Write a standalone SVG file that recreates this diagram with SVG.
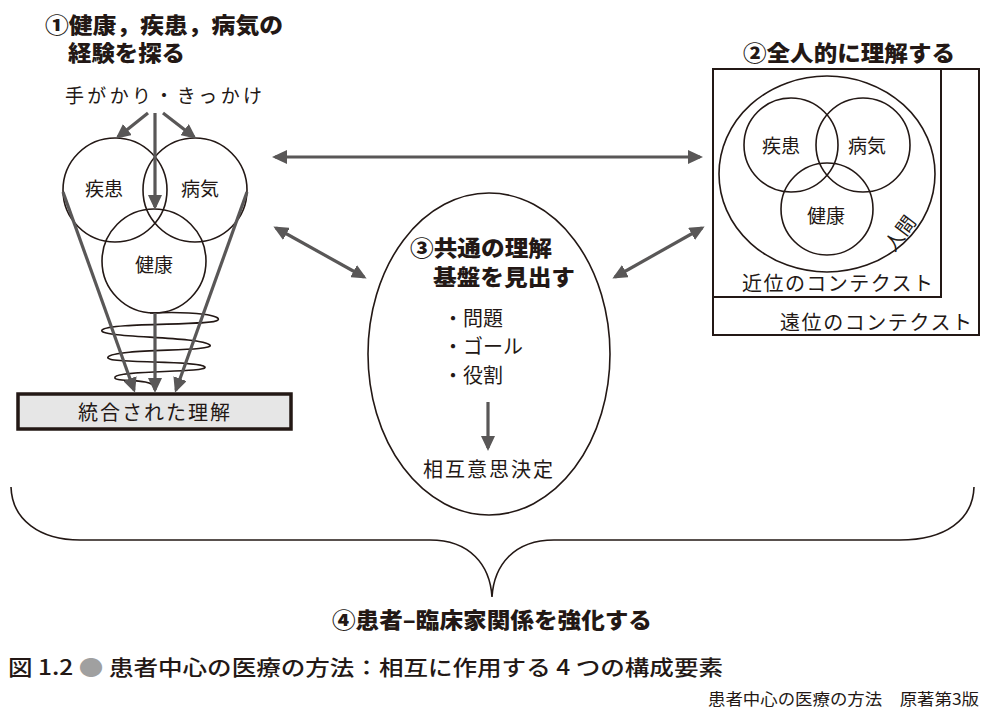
<svg xmlns="http://www.w3.org/2000/svg" width="981" height="719" viewBox="0 0 981 719">
<style>
text{font-family:"Noto Sans CJK JP","Noto Sans CJK SC",sans-serif;fill:#231815}
.h{font-weight:900;font-size:22px}
.t{font-size:19px}
.c{text-anchor:middle}
.ln{fill:none;stroke:#231815;stroke-width:1.6}
.ar{fill:none;stroke:#595757;stroke-width:3.2}
</style>
<defs>
<marker id="ah" viewBox="0 0 15 14" refX="12" refY="7" markerWidth="15" markerHeight="14" markerUnits="userSpaceOnUse" orient="auto-start-reverse">
<path d="M0,0 L15,7 L0,14 z" fill="#595757"/>
</marker>
</defs>
<rect width="981" height="719" fill="#ffffff"/>

<g id="section1">
<text class="h" x="45" y="33" textLength="238" lengthAdjust="spacingAndGlyphs">①健康，疾患，病気の</text>
<text class="h" x="68" y="61" textLength="117" lengthAdjust="spacingAndGlyphs">経験を探る</text>
<text class="t" x="65" y="103" textLength="197" lengthAdjust="spacing">手がかり・きっかけ</text>
</g>
<g id="circle-illness-left">
<circle class="ln" cx="115" cy="190" r="52"/>
<text class="t c" x="104" y="196">疾患</text>
</g>
<g id="circle-disease-left">
<circle class="ln" cx="195" cy="190" r="52"/>
<text class="t c" x="200" y="196">病気</text>
</g>
<g id="circle-health-left">
<circle class="ln" cx="154" cy="261" r="52"/>
<text class="t c" x="154" y="272">健康</text>
</g>
<g id="helix">
<path class="ln" d="M150,313 C198,311 222,316 218,320 C214,326 110,322 102,330 C96,338 200,336 210,345 C216,352 115,348 108,357 C102,364 200,360 205,367 C208,373 120,370 115,377 C112,383 152,377 155,388"/>
</g>
<g id="integrated">
<rect x="18" y="394" width="273" height="35" fill="#e6e6e6" stroke="#231815" stroke-width="3.5"/>
<text class="t c" x="154" y="420" style="font-size:20px" textLength="152" lengthAdjust="spacing">統合された理解</text>
</g>

<g id="section2">
<text class="h" x="743" y="61" textLength="212" lengthAdjust="spacingAndGlyphs">②全人的に理解する</text>
</g>
<g id="distal-context">
<rect x="713" y="69" width="266" height="266" fill="none" stroke="#231815" stroke-width="2"/>
<text class="t" x="780" y="330" style="font-size:20px" textLength="192" lengthAdjust="spacing">遠位のコンテクスト</text>
</g>
<g id="proximal-context">
<rect x="713" y="69" width="228" height="228" fill="none" stroke="#231815" stroke-width="2"/>
<text class="t" x="742" y="291" style="font-size:20px" textLength="191" lengthAdjust="spacing">近位のコンテクスト</text>
</g>
<g id="person">
<ellipse class="ln" cx="827" cy="174" rx="108" ry="98"/>
<text class="t c" transform="translate(900,233) rotate(-53)" x="0" y="7" style="font-size:19px">人間</text>
</g>
<g id="circle-illness-right">
<circle class="ln" cx="791" cy="145" r="47"/>
<text class="t c" x="781" y="153">疾患</text>
</g>
<g id="circle-disease-right">
<circle class="ln" cx="863" cy="145" r="47"/>
<text class="t c" x="867" y="153">病気</text>
</g>
<g id="circle-health-right">
<circle class="ln" cx="827" cy="209" r="46"/>
<text class="t c" x="826" y="223">健康</text>
</g>

<g id="section3">
<ellipse class="ln" cx="489" cy="354" rx="121" ry="161"/>
<text class="h" x="410" y="256" textLength="142" lengthAdjust="spacingAndGlyphs">③共通の理解</text>
<text class="h" x="433" y="285" textLength="142" lengthAdjust="spacingAndGlyphs">基盤を見出す</text>
<text class="t" x="443" y="326" style="font-size:20px">・問題</text>
<text class="t" x="443" y="354" style="font-size:20px">・ゴール</text>
<text class="t" x="443" y="383" style="font-size:20px">・役割</text>
<text class="t c" x="488" y="477" style="font-size:20px" textLength="130" lengthAdjust="spacing">相互意思決定</text>
</g>

<g id="section4">
<path class="ln" d="M11,487 C12,520 40,540 80,540 L430,540 C470,540 490,565 492,597 C494,565 514,540 554,540 L900,540 C945,540 973,520 974,487"/>
<text class="h" x="332" y="628" textLength="320" lengthAdjust="spacingAndGlyphs">④患者–臨床家関係を強化する</text>
</g>

<g id="connectors">
<line class="ar" x1="148" y1="113" x2="118" y2="137" marker-end="url(#ah)"/>
<line class="ar" x1="155" y1="113" x2="155" y2="207" marker-end="url(#ah)"/>
<line class="ar" x1="163" y1="113" x2="194" y2="137" marker-end="url(#ah)"/>
<line class="ar" x1="63" y1="192" x2="134" y2="390" marker-end="url(#ah)"/>
<line class="ar" x1="155" y1="313" x2="155" y2="390" marker-end="url(#ah)"/>
<line class="ar" x1="247" y1="192" x2="176" y2="390" marker-end="url(#ah)"/>
<line class="ar" x1="275" y1="157" x2="700" y2="157" marker-start="url(#ah)" marker-end="url(#ah)"/>
<line class="ar" x1="276" y1="228" x2="364" y2="277" marker-start="url(#ah)" marker-end="url(#ah)"/>
<line class="ar" x1="615" y1="277" x2="702" y2="228" marker-start="url(#ah)" marker-end="url(#ah)"/>
<line class="ar" x1="488" y1="402" x2="488" y2="448" marker-end="url(#ah)"/>
</g>

<g id="caption">
<text x="8" y="675" style="font-size:21px;font-weight:500" textLength="715" lengthAdjust="spacingAndGlyphs">図 1.2 <tspan fill="#a0a0a0">●</tspan> 患者中心の医療の方法：相互に作用する 4 つの構成要素</text>
<text x="708" y="705" style="font-size:16px" textLength="271" lengthAdjust="spacingAndGlyphs">患者中心の医療の方法　原著第3版</text>
</g>
</svg>
